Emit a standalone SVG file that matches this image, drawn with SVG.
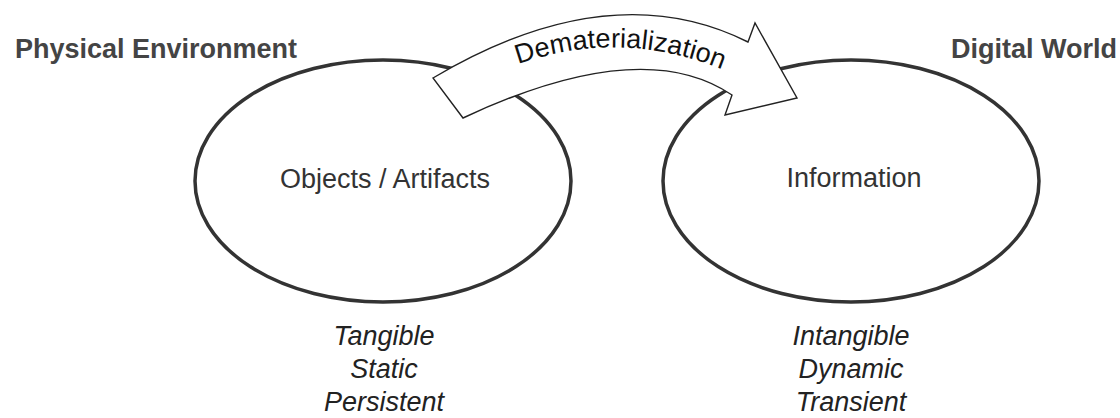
<svg xmlns="http://www.w3.org/2000/svg" width="1120" height="418" viewBox="0 0 1120 418">
<style>
.bg{fill:#fff}
.ell{fill:#fff;stroke:#333;stroke-width:3.5}
.lbl{font-family:"Liberation Sans",Arial,sans-serif;font-size:27px;fill:#333;text-anchor:middle}
.hdr{font-family:"Liberation Sans",Arial,sans-serif;font-size:27px;font-weight:bold;fill:#444}
.it{font-family:"Liberation Sans",Arial,sans-serif;font-size:27px;font-style:italic;fill:#222;text-anchor:middle}
.arr{fill:#fff;stroke:#222;stroke-width:1.4;stroke-linejoin:miter}
.arrtxt{font-family:"Liberation Sans",Arial,sans-serif;font-size:27px;fill:#111}
</style>
<defs>
<path id="arcpath" d="M498,72 Q620,20 742,78" fill="none"/>
</defs>
<rect class="bg" x="0" y="0" width="1120" height="418"/>
<g id="physical">
<ellipse class="ell" cx="383" cy="181" rx="188" ry="121"/>
<text class="lbl" x="385" y="188">Objects / Artifacts</text>
</g>
<g id="digital">
<ellipse class="ell" cx="851" cy="181" rx="188" ry="121"/>
<text class="lbl" x="854" y="187">Information</text>
</g>
<g id="connectors">
<path class="arr" d="M433,78 Q610,-27 748,42 L755,23 L797,98 L725,115 L732,95 Q642,34 463,118 Z"/>
<text class="arrtxt"><textPath href="#arcpath" startOffset="50%" text-anchor="middle">Dematerialization</textPath></text>
</g>
<g id="headers">
<text class="hdr" x="15" y="58">Physical Environment</text>
<text class="hdr" x="1117" y="58" text-anchor="end">Digital World</text>
</g>
<g id="properties-physical">
<text class="it" x="384" y="345">Tangible</text>
<text class="it" x="384" y="378">Static</text>
<text class="it" x="384" y="411">Persistent</text>
</g>
<g id="properties-digital">
<text class="it" x="851" y="345">Intangible</text>
<text class="it" x="851" y="378">Dynamic</text>
<text class="it" x="851" y="411">Transient</text>
</g>
</svg>
